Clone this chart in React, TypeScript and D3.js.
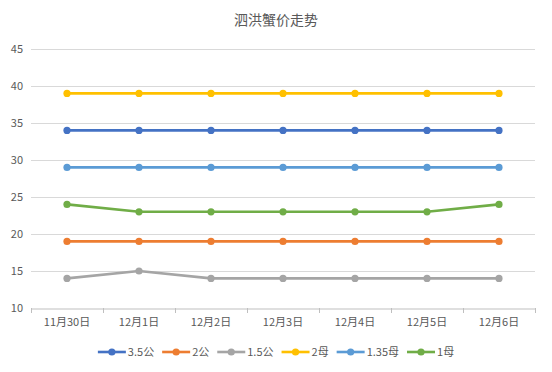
import React, { useEffect, useRef } from 'react';
import * as d3 from 'd3';

const dates = ['11月30日', '12月1日', '12月2日', '12月3日', '12月4日', '12月5日', '12月6日'];
const seriesNames = ['3.5公', '2公', '1.5公', '2母', '1.35母', '1母'];
const male35 = [34, 34, 34, 34, 34, 34, 34];
const male2 = [19, 19, 19, 19, 19, 19, 19];
const male15 = [14, 15, 14, 14, 14, 14, 14];
const female2 = [39, 39, 39, 39, 39, 39, 39];
const female135 = [29, 29, 29, 29, 29, 29, 29];
const female1 = [24, 23, 23, 23, 23, 23, 24];
const yTicks = [10, 15, 20, 25, 30, 35, 40, 45];
const colors = ['#4472C4', '#ED7D31', '#A5A5A5', '#FFC000', '#5B9BD5', '#70AD47'];

const W = 552;
const H = 372;
const FONT = '"Noto Sans CJK SC", "Noto Sans", sans-serif';

const App: React.FC = () => {
  const svgRef = useRef<SVGSVGElement>(null);

  useEffect(() => {
    if (!svgRef.current) return;
    const svg = d3.select(svgRef.current);
    svg.selectAll('*').remove();

    const values = [male35, male2, male15, female2, female135, female1];
    const series = seriesNames.map((name, i) => ({ name, color: colors[i], values: values[i] }));

    const left = 31, right = 535, top = 49, bottom = 308;

    svg.append('rect')
      .attr('x', 0.5).attr('y', 0.5)
      .attr('width', W - 1).attr('height', H - 1)
      .attr('fill', '#fff')
      .attr('stroke', '#d0d0d0');

    svg.append('text')
      .attr('x', W / 2).attr('y', 25)
      .attr('text-anchor', 'middle')
      .style('font-family', FONT)
      .style('font-size', '14px')
      .style('fill', '#595959')
      .text('泗洪蟹价走势');

    const x = d3.scaleBand().domain(dates).range([left, right]);
    const y = d3.scaleLinear().domain([10, 45]).range([bottom, top]);

    // grid lines
    svg.append('g')
      .selectAll('line')
      .data(yTicks.filter(t => t !== 10))
      .join('line')
      .attr('x1', left).attr('x2', right)
      .attr('y1', d => Math.round(y(d)) + 0.5)
      .attr('y2', d => Math.round(y(d)) + 0.5)
      .attr('stroke', '#d9d9d9');

    // y labels
    svg.append('g')
      .selectAll('text')
      .data(yTicks)
      .join('text')
      .attr('x', 23)
      .attr('y', d => y(d))
      .attr('dy', '0.35em')
      .attr('text-anchor', 'end')
      .style('font-family', FONT)
      .style('font-size', '11px')
      .style('fill', '#595959')
      .text(d => d);

    // x axis
    const xAxis = svg.append('g')
      .attr('transform', `translate(0,${Math.round(bottom) + 0.5})`)
      .call(d3.axisBottom(x).tickSize(0).tickPadding(10));
    xAxis.select('.domain').attr('stroke', '#bfbfbf');
    xAxis.selectAll('text')
      .style('font-family', FONT)
      .style('font-size', '11px')
      .style('fill', '#595959');
    svg.append('g')
      .selectAll('line')
      .data(d3.range(dates.length + 1))
      .join('line')
      .attr('x1', i => Math.round(left + i * x.step()) + 0.5)
      .attr('x2', i => Math.round(left + i * x.step()) + 0.5)
      .attr('y1', bottom)
      .attr('y2', bottom + 5)
      .attr('stroke', '#bfbfbf');

    const cx = (i: number) => (x(dates[i]) || 0) + x.bandwidth() / 2;
    const line = d3.line<number>().x((_, i) => cx(i)).y(d => y(d));

    series.forEach(s => {
      const g = svg.append('g');
      g.append('path')
        .attr('d', line(s.values))
        .attr('fill', 'none')
        .attr('stroke', s.color)
        .attr('stroke-width', 2.6)
        .attr('stroke-linejoin', 'round');
      g.selectAll('circle')
        .data(s.values)
        .join('circle')
        .attr('cx', (_, i) => cx(i))
        .attr('cy', d => y(d))
        .attr('r', 3.6)
        .attr('fill', s.color);
    });

    // legend
    const legend = svg.append('g').attr('transform', 'translate(0,352)');
    const items = series.map(s => {
      const g = legend.append('g');
      g.append('line')
        .attr('x1', 0).attr('x2', 28)
        .attr('stroke', s.color).attr('stroke-width', 2.6);
      g.append('circle').attr('cx', 14).attr('r', 3.6).attr('fill', s.color);
      const t = g.append('text')
        .attr('x', 30)
        .attr('dy', '0.35em')
        .style('font-family', FONT)
        .style('font-size', '11px')
        .style('fill', '#595959')
        .text(s.name);
      const w = 30 + (t.node() as SVGTextElement).getComputedTextLength();
      return { g, w };
    });
    const gap = 8;
    const total = d3.sum(items, d => d.w) + gap * (items.length - 1);
    let pos = W / 2 - total / 2;
    items.forEach(it => {
      it.g.attr('transform', `translate(${pos},0)`);
      pos += it.w + gap;
    });
  }, []);

  return (
    <div style={{ width: W, height: H, margin: -8 }}>
      <svg ref={svgRef} width={W} height={H} style={{ display: 'block' }} />
    </div>
  );
};

export default App;
